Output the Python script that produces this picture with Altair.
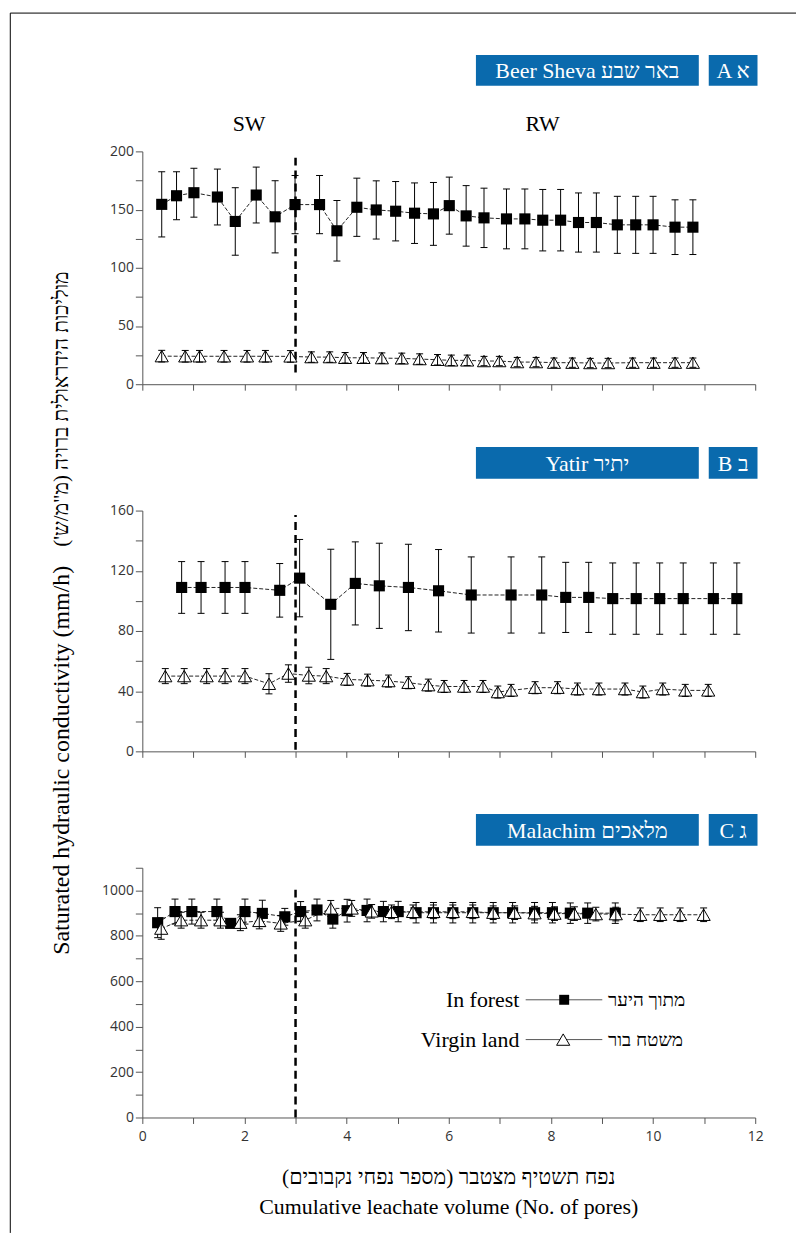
import altair as alt
import pandas as pd

# ---------------- data ----------------
# Panel A - Beer Sheva
A_forest_x = [0.38, 0.67, 1.01, 1.47, 1.82, 2.23, 2.60, 2.99, 3.47, 3.81,
              4.20, 4.58, 4.96, 5.33, 5.70, 6.01, 6.34, 6.69, 7.13, 7.49,
              7.84, 8.19, 8.54, 8.89, 9.30, 9.66, 10.00, 10.43, 10.78]
A_forest_y = [154.5, 161.9, 164.5, 160.8, 139.8, 162.5, 143.8, 154.3, 154.3, 131.8,
              152.0, 149.7, 148.6, 146.9, 146.3, 153.4, 144.6, 142.9, 142.0, 142.0,
              140.9, 140.9, 138.9, 138.9, 136.9, 136.9, 136.9, 134.9, 134.9]
A_forest_sd = [28, 20.6, 21, 24, 29, 24, 31, 25, 25, 26,
               25, 25, 25.5, 26, 27, 24.5, 26, 25.5, 25.7, 25.7,
               26.4, 26.4, 25.4, 25.4, 24.5, 24.5, 24.5, 23.5, 23.5]
A_virgin_x = [0.38, 0.84, 1.12, 1.60, 2.05, 2.41, 2.90, 3.31, 3.67, 3.97,
              4.33, 4.69, 5.08, 5.43, 5.78, 6.05, 6.36, 6.69, 6.99, 7.34,
              7.71, 8.06, 8.42, 8.77, 9.12, 9.60, 10.01, 10.43, 10.78]
A_virgin_y = [24.1, 24.0, 24.0, 24.0, 24.0, 24.0, 23.9, 23.3, 23.3, 22.7,
              22.7, 22.4, 22.2, 21.6, 21.0, 20.5, 20.5, 19.9, 19.9, 19.0,
              19.0, 18.5, 18.5, 18.2, 18.2, 18.5, 18.5, 18.5, 18.5]
A_virgin_sd = [5, 5, 5, 5, 5, 5, 5, 4.5, 4.5, 4.5,
               4.5, 4.5, 4.5, 4.5, 4.5, 4.5, 4.5, 4, 4, 4,
               4, 4, 4, 4, 4, 4, 4, 4, 4]

# Panel B - Yatir
B_forest_x = [0.77, 1.15, 1.62, 2.01, 2.69, 3.08, 3.69, 4.17, 4.64, 5.21, 5.80,
              6.44, 7.22, 7.82, 8.29, 8.74, 9.21, 9.67, 10.13, 10.59, 11.18, 11.64]
B_forest_y = [108.9, 108.9, 108.9, 108.9, 107.0, 115.1, 97.7, 111.6, 110.0, 108.9, 106.7,
              103.9, 103.9, 103.9, 102.3, 102.3, 101.5, 101.5, 101.5, 101.5, 101.5, 101.5]
B_forest_sd = [17.2, 17.2, 17.2, 17.2, 17.8, 25.7, 36.6, 27.6, 28.3, 28.7, 27.4,
               25.3, 25.3, 25.3, 23.3, 23.3, 23.7, 23.7, 23.7, 23.7, 23.7, 23.7]
B_virgin_x = [0.45, 0.82, 1.26, 1.62, 2.01, 2.48, 2.86, 3.26, 3.60, 4.01,
              4.41, 4.82, 5.21, 5.60, 5.91, 6.30, 6.67, 6.96, 7.22, 7.69,
              8.13, 8.52, 8.94, 9.45, 9.80, 10.19, 10.63, 11.08]
B_virgin_y = [50.0, 50.0, 50.0, 50.0, 50.0, 44.9, 51.7, 50.4, 50.0, 47.8,
              47.3, 46.7, 45.6, 44.0, 43.1, 43.1, 43.1, 39.4, 40.5, 42.3,
              42.3, 41.4, 41.4, 41.4, 39.4, 41.4, 40.5, 40.5]
B_virgin_sd = [5, 5, 5, 5, 5, 6.7, 5.8, 5.5, 5, 4,
               4, 4, 4, 4, 4, 4, 4, 4, 4, 4,
               4, 4, 4, 4, 4, 4, 4, 4]

# Panel C - Malachim
C_forest_x = [0.30, 0.64, 0.97, 1.46, 1.73, 2.01, 2.35, 2.79, 3.10, 3.42,
              3.73, 4.01, 4.40, 4.72, 5.01, 5.36, 5.70, 6.08, 6.47, 6.87,
              7.25, 7.68, 8.03, 8.38, 8.72, 9.26]
C_forest_y = [858, 907, 907, 907, 855, 907, 899, 884, 907, 914,
              874, 911, 912, 907, 907, 902, 902, 902, 902, 902,
              902, 902, 902, 900, 900, 900]
C_forest_sd = [66, 55, 55, 55, 12, 55, 58, 37, 44, 48,
               40, 50, 50, 45, 45, 45, 45, 45, 45, 45,
               45, 45, 45, 45, 45, 45]
C_virgin_x = [0.37, 0.76, 1.15, 1.53, 1.92, 2.29, 2.71, 3.19, 3.69, 4.10,
              4.49, 4.88, 5.30, 5.70, 6.08, 6.47, 6.87, 7.29, 7.68, 8.07,
              8.46, 8.88, 9.27, 9.75, 10.14, 10.53, 10.99]
C_virgin_y = [832, 869, 869, 869, 858, 866, 855, 869, 921, 921,
              908, 906, 906, 906, 906, 906, 902, 902, 900, 898,
              898, 896, 896, 893, 893, 893, 893]
C_virgin_sd = [47, 35, 35, 35, 35, 35, 35, 35, 35, 35,
               30, 30, 30, 30, 30, 30, 30, 30, 30, 30,
               30, 30, 30, 30, 30, 30, 30]

# boundary between SW and RW (pore volumes) and the extent of the dashed marker
boundary_x = 3
A_dash = (10, 196)
B_dash = (1, 157)
C_dash = (0, 1020)

# ---------------- styling ----------------
SERIF = "Liberation Serif"
SANS = "Open Sans"
BLUE = "#0a6aad"
W = 616
one = pd.DataFrame({"k": [0]})


def frame(fx, fy, fsd, vx, vy, vsd):
    rows = []
    for x, y, s in zip(fx, fy, fsd):
        rows.append({"x": x, "y": y, "lo": y - s, "hi": y + s, "s": "forest"})
    for x, y, s in zip(vx, vy, vsd):
        rows.append({"x": x, "y": y, "lo": y - s, "hi": y + s, "s": "virgin"})
    return pd.DataFrame(rows)


def txt(s, x, y, size, font=SERIF, color="black", align="center", angle=None):
    kw = dict(font=font, fontSize=size, color=color, align=align, baseline="middle")
    if angle is not None:
        kw["angle"] = angle
    return alt.Chart(one).mark_text(**kw).encode(
        x=alt.value(x), y=alt.value(y), text=alt.value(s))


def rect(x1, x2, y1, y2, color=BLUE):
    return alt.Chart(one).mark_rect(color=color).encode(
        x=alt.value(x1), x2=alt.value(x2), y=alt.value(y1), y2=alt.value(y2))


def hline(x1, x2, y, color="#555", width=1):
    return alt.Chart(one).mark_rule(color=color, strokeWidth=width).encode(
        x=alt.value(x1), x2=alt.value(x2), y=alt.value(y))


def header(label, letter, y1, y2):
    ym = (y1 + y2) / 2
    return [rect(335.3, 559.3, y1, y2), rect(569.3, 618.3, y1, y2),
            txt(label, 447.3, ym + 1, 22, color="white"),
            txt(letter, 593.8, ym + 1, 22, color="white")]


AXIS_STYLE = dict(domainColor="#555", tickColor="#555", labelColor="#333",
                  labelFont=SANS, labelFontSize=14, domainWidth=1, tickWidth=1,
                  grid=False, title=None, labelFlush=False, labelOverlap=False)


def panel(df, dash, ymax, ystep, ylab, height, yrange=None, xlabels=False, extras=()):
    xs = alt.Scale(domain=[0, 12], nice=False, zero=False)
    yskw = dict(domain=[0, ymax], nice=False, zero=False)
    if yrange is not None:
        yskw["range"] = yrange
    ys = alt.Scale(**yskw)
    xaxis = alt.Axis(values=list(range(13)), labels=xlabels,
                     labelExpr="datum.value % 2 == 0 ? datum.label : ''",
                     tickSize=6, labelPadding=6, **AXIS_STYLE)
    yaxis = alt.Axis(values=list(range(0, ymax + 1, ystep)), format="d",
                     labelExpr=f"datum.value % {ylab} == 0 ? datum.label : ''",
                     tickSize=7, labelPadding=2, **AXIS_STYLE)
    X = alt.X("x:Q", scale=xs, axis=xaxis)
    Y = alt.Y("y:Q", scale=ys, axis=yaxis)
    YLO = alt.Y("lo:Q", scale=ys, axis=yaxis)
    YHI = alt.Y("hi:Q", scale=ys, axis=yaxis)

    dash_df = pd.DataFrame({"x": [boundary_x], "lo": [dash[0]], "hi": [dash[1]]})
    base = alt.Chart(df)
    forest = base.transform_filter("datum.s == 'forest'")
    virgin = base.transform_filter("datum.s == 'virgin'")
    cap = dict(shape="M-1,0L1,0", size=49, stroke="black", strokeWidth=1,
               filled=False, opacity=1)

    layers = [
        alt.Chart(dash_df).mark_rule(strokeWidth=2.5, strokeDash=[8, 5], color="black")
        .encode(x=X, y=YLO, y2="hi:Q"),
        base.mark_line(strokeWidth=1, color="#222", strokeDash=[4, 2])
        .encode(x=X, y=Y, detail="s:N"),
        forest.mark_rule(color="black", strokeWidth=1).encode(x=X, y=YLO, y2="hi:Q"),
        forest.mark_point(**cap).encode(x=X, y=YLO),
        forest.mark_point(**cap).encode(x=X, y=YHI),
        forest.mark_point(shape="square", size=125, filled=True, color="black", opacity=1)
        .encode(x=X, y=Y),
        virgin.mark_point(shape="triangle-up", size=175, filled=True, fill="white",
                          stroke="black", strokeWidth=1, opacity=1).encode(x=X, y=Y),
        virgin.mark_rule(color="black", strokeWidth=1).encode(x=X, y=YLO, y2="hi:Q"),
        virgin.mark_point(**cap).encode(x=X, y=YLO),
        virgin.mark_point(**cap).encode(x=X, y=YHI),
    ]
    layers += list(extras)
    return alt.layer(*layers).properties(width=W, height=height)


dfA = frame(A_forest_x, A_forest_y, A_forest_sd, A_virgin_x, A_virgin_y, A_virgin_sd)
dfB = frame(B_forest_x, B_forest_y, B_forest_sd, B_virgin_x, B_virgin_y, B_virgin_sd)
dfC = frame(C_forest_x, C_forest_y, C_forest_sd, C_virgin_x, C_virgin_y, C_virgin_sd)

# ---- panel A extras: border, header, SW/RW labels
extrasA = [
    alt.Chart(one).mark_rule(color="black", strokeWidth=1).encode(
        x=alt.value(-132.7), y=alt.value(-139), y2=alt.value(1087)),
    alt.Chart(one).mark_rule(color="black", strokeWidth=1).encode(
        x=alt.value(-132.7), x2=alt.value(657), y=alt.value(-139)),
    txt("SW", 107.3, -27, 22),
    txt("RW", 402.3, -27, 22),
] + header("Beer Sheva באר שבע", "A א", -97, -66)

# ---- panel B extras: header, y-axis title
extrasB = header("Yatir יתיר", "B ב", -54, -22) + [
    txt("Saturated hydraulic conductivity (mm/h)", -80.7, 261, 24, angle=270),
    txt("\u2067מוליכות הידראולית ברויה (מ\"מ/ש')\u2069", -80.7, -92, 21, angle=270),
]

# ---- panel C extras: header, legend, x-axis titles
extrasC = header("Malachim מלאכים", "C ג", -54, -22) + [
    hline(385.3, 462.3, 132.7),
    hline(385.3, 462.3, 172.7),
    alt.Chart(one).mark_point(shape="square", size=100, filled=True, color="black",
                              opacity=1).encode(x=alt.value(424), y=alt.value(132.7)),
    alt.Chart(one).mark_point(shape="triangle-up", size=175, filled=True, fill="white",
                              stroke="black", strokeWidth=1, opacity=1)
    .encode(x=alt.value(423), y=alt.value(172.7)),
    txt("In forest", 379, 132.7, 22, align="right"),
    txt("Virgin land", 379, 172.7, 22, align="right"),
    txt("מתוך היער", 468, 132.7, 19, align="left"),
    txt("משטח בור", 468, 172.7, 19, align="left"),
    txt("\u2067נפח תשטיף מצטבר (מספר נפחי נקבובים)\u2069", 308, 312, 21.5),
    txt("Cumulative leachate volume (No. of pores)", 308, 341, 22),
]

chartA = panel(dfA, A_dash, 200, 25, 50, 234, extras=extrasA)
chartB = panel(dfB, B_dash, 160, 20, 40, 252, yrange=[252, 10], extras=extrasB)
chartC = panel(dfC, C_dash, 1100, 100, 200, 251, xlabels=True, extras=extrasC)

chart = alt.vconcat(chartA, chartB, chartC, spacing=117, bounds="flush").properties(
    padding=1, background="white"
).configure_view(stroke=None)

chart.save("out.html", embed_options={"renderer": "svg", "actions": False})
